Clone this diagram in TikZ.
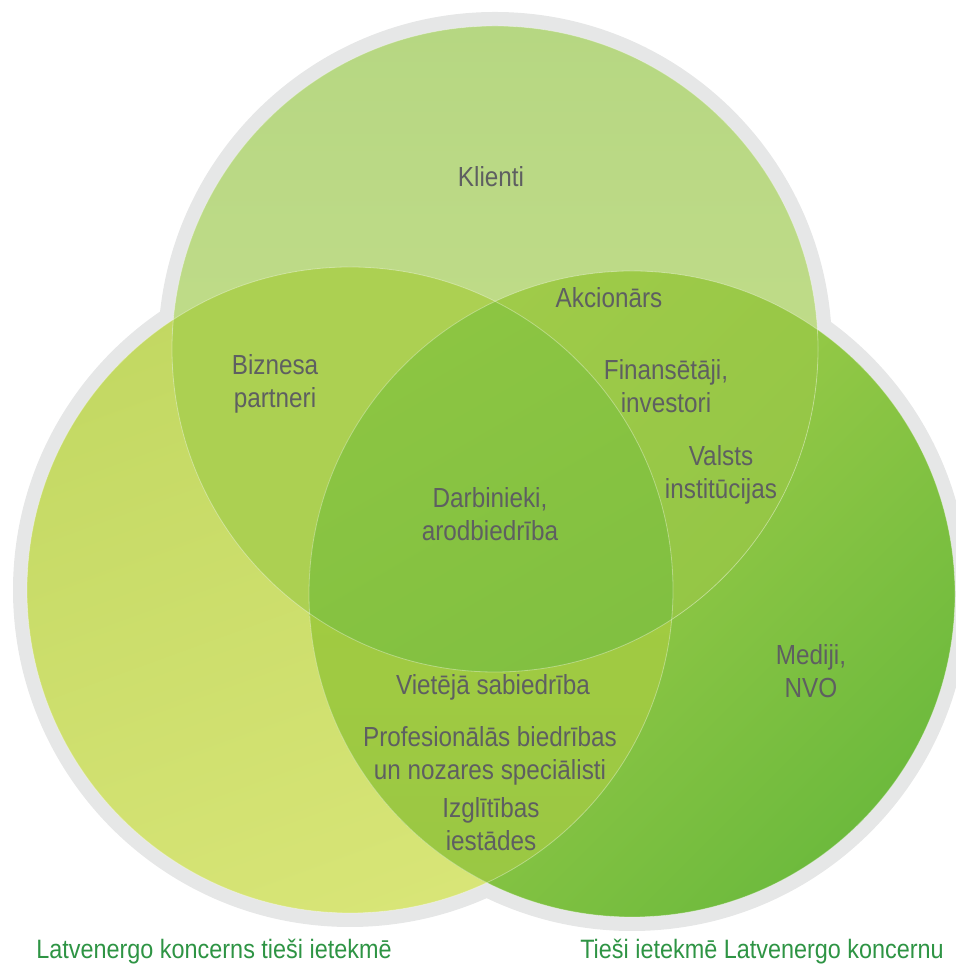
\documentclass[tikz,border=0pt]{standalone}
\usepackage{fontspec}
\setmainfont{Liberation Sans}[FakeStretch=0.88]
\definecolor{rimgrey}{HTML}{E6E7E7}
\definecolor{labelgrey}{HTML}{5E5F61}
\definecolor{capgreen}{HTML}{2E9444}
\definecolor{topA}{HTML}{B6D782}
\definecolor{topB}{HTML}{C9E08F}
\definecolor{leftA}{HTML}{C2D862}
\definecolor{leftB}{HTML}{D8E577}
\definecolor{rightA}{HTML}{AED24C}
\definecolor{rightB}{HTML}{6DBA3D}
\definecolor{tlgreen}{HTML}{ACD052}
\definecolor{trA}{HTML}{A0CB49}
\definecolor{trB}{HTML}{8CC344}
\definecolor{lrA}{HTML}{AACF3E}
\definecolor{lrB}{HTML}{99C744}
\definecolor{midA}{HTML}{8CC542}
\definecolor{midB}{HTML}{78BC40}
\begin{document}
\begin{tikzpicture}[x=0.5pt,y=0.5pt,
    stakeholder/.style={text=labelgrey,font=\fontsize{13.8}{16.5}\selectfont,align=center},
    groupcap/.style={text=capgreen,font=\fontsize{13.3}{15}\selectfont},
    seam/.style={white,opacity=0.35,line width=0.4pt}]
    \useasboundingbox (0,0) rectangle (955,967);
    \coordinate (T) at (495,618);
    \coordinate (L) at (350,377);
    \coordinate (R) at (632,373);
    %% grey rim behind the three circles
    \foreach \c in {T,L,R}
        \fill[rimgrey] (\c) circle (337);
    %% the three circles
    \shade[left color=leftA,right color=leftB,shading angle=20] (L) circle (323);
    \shade[top color=rightA,bottom color=rightB,shading angle=45] (R) circle (323);
    \shade[top color=topA,bottom color=topB] (T) circle (323);
    %% overlaps
    \begin{scope}
        \clip (T) circle (323);
        \fill[tlgreen] (L) circle (323);
    \end{scope}
    \begin{scope}
        \clip (T) circle (323);
        \shade[top color=trA,bottom color=trB,shading angle=45] (R) circle (323);
    \end{scope}
    \begin{scope}
        \clip (L) circle (323);
        \shade[top color=lrA,bottom color=lrB] (R) circle (323);
    \end{scope}
    \begin{scope}
        \clip (T) circle (323);
        \clip (L) circle (323);
        \shade[top color=midA,bottom color=midB,shading angle=30] (R) circle (323);
    \end{scope}
    \foreach \c in {T,L,R}
        \draw[seam] (\c) circle (323);
    %% stakeholders
    \node[stakeholder] (klienti) at (491,790) {Klienti};
    \node[stakeholder] (akcionars) at (609,669) {Akcionārs};
    \node[stakeholder] (biznesa) at (275,583) {Biznesa\\partneri};
    \node[stakeholder] (finansetaji) at (666,581) {Finansētāji,\\investori};
    \node[stakeholder] (valsts) at (721,492) {Valsts\\institūcijas};
    \node[stakeholder] (darbinieki) at (490,453) {Darbinieki,\\arodbiedrība};
    \node[stakeholder] (mediji) at (811,296) {Mediji,\\NVO};
    \node[stakeholder] (vieteja) at (493,280) {Vietējā sabiedrība};
    \node[stakeholder] (profesionalas) at (490,211) {Profesionālās biedrības\\un nozares speciālisti};
    \node[stakeholder] (izglitibas) at (491,143) {Izglītības\\iestādes};
    %% group captions
    \node[groupcap] (koncernsietekme) at (214,15) {Latvenergo koncerns tieši ietekmē};
    \node[groupcap] (ietekmekoncernu) at (762,15) {Tieši ietekmē Latvenergo koncernu};
\end{tikzpicture}
\end{document}
